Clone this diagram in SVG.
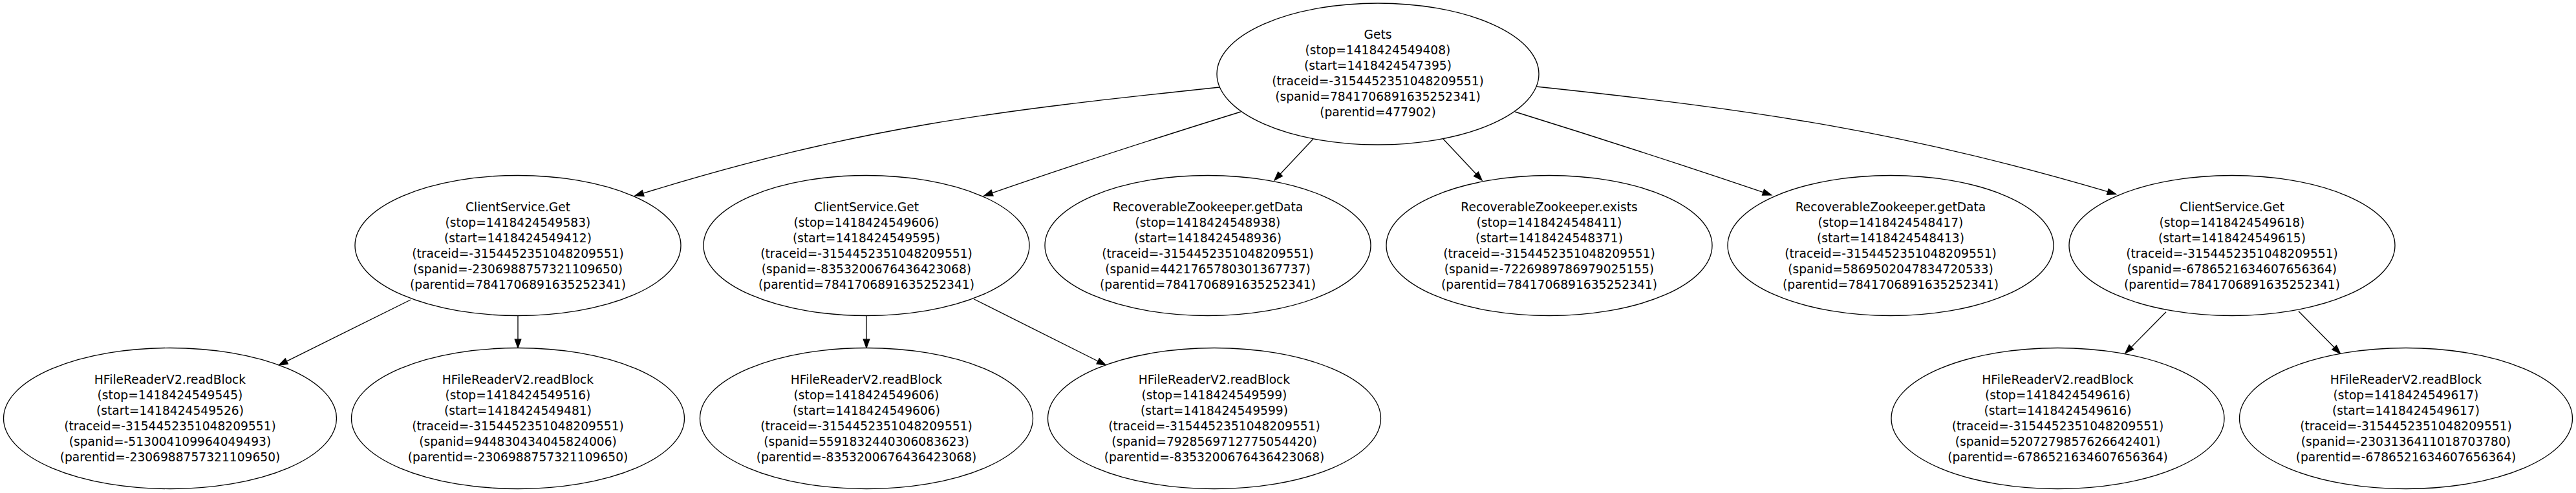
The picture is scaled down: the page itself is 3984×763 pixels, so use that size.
<svg xmlns="http://www.w3.org/2000/svg" width="3984" height="763" viewBox="0 0 3984 763">
<style>
.n ellipse{fill:#fff;stroke:#000;stroke-width:1.33}
.n text{font-family:"DejaVu Sans",Verdana,sans-serif;font-size:18.67px;text-anchor:middle;fill:#000}
#edges path{fill:none;stroke:#000;stroke-width:1.33;marker-end:url(#ah)}
</style>
<defs>
<marker id="ah" markerUnits="userSpaceOnUse" markerWidth="16" markerHeight="12" refX="0" refY="4.67" orient="auto" overflow="visible">
<path d="M0,0 L13.3,4.67 L0,9.33 Z" fill="#000" stroke="#000" stroke-width="1.33"/>
</marker>
</defs>
<rect width="3984" height="763" fill="#fff"/>
<g id="edges">
<path d="M1886,135 C1538,172 1329,196 994.7,299.1"/>
<path d="M1919,173 C1800,210 1640,262 1534.5,298.6"/>
<path d="M2031,215 L1980.1,269.3"/>
<path d="M2232,215 L2282.9,269.3"/>
<path d="M2343,173 C2462,210 2622,262 2727,297.6"/>
<path d="M2376,134 C2726,171 2950,205 3259.8,296.7"/>
<path d="M635,464 L443.3,559.1"/>
<path d="M801,489 L801,525.2"/>
<path d="M1340,489 L1340,525.2"/>
<path d="M1506.5,463 L1698.1,559"/>
<path d="M3350,482.7 L3296.3,537.2"/>
<path d="M3555,481.7 L3610.2,537.8"/>
</g>
<g id="root" class="n"><ellipse cx="2131" cy="114.5" rx="249" ry="109.5"/>
<text y="60"><tspan x="2131">Gets</tspan><tspan x="2131" dy="24">(stop=1418424549408)</tspan><tspan x="2131" dy="24">(start=1418424547395)</tspan><tspan x="2131" dy="24">(traceid=-3154452351048209551)</tspan><tspan x="2131" dy="24">(spanid=7841706891635252341)</tspan><tspan x="2131" dy="24">(parentid=477902)</tspan></text></g>
<g id="cs1" class="n"><ellipse cx="801" cy="380" rx="252" ry="108.5"/>
<text y="326.5"><tspan x="801">ClientService.Get</tspan><tspan x="801" dy="24">(stop=1418424549583)</tspan><tspan x="801" dy="24">(start=1418424549412)</tspan><tspan x="801" dy="24">(traceid=-3154452351048209551)</tspan><tspan x="801" dy="24">(spanid=-2306988757321109650)</tspan><tspan x="801" dy="24">(parentid=7841706891635252341)</tspan></text></g>
<g id="cs2" class="n"><ellipse cx="1340" cy="380" rx="252" ry="108.5"/>
<text y="326.5"><tspan x="1340">ClientService.Get</tspan><tspan x="1340" dy="24">(stop=1418424549606)</tspan><tspan x="1340" dy="24">(start=1418424549595)</tspan><tspan x="1340" dy="24">(traceid=-3154452351048209551)</tspan><tspan x="1340" dy="24">(spanid=-8353200676436423068)</tspan><tspan x="1340" dy="24">(parentid=7841706891635252341)</tspan></text></g>
<g id="rzgd1" class="n"><ellipse cx="1868" cy="380" rx="252" ry="108.5"/>
<text y="326.5"><tspan x="1868">RecoverableZookeeper.getData</tspan><tspan x="1868" dy="24">(stop=1418424548938)</tspan><tspan x="1868" dy="24">(start=1418424548936)</tspan><tspan x="1868" dy="24">(traceid=-3154452351048209551)</tspan><tspan x="1868" dy="24">(spanid=4421765780301367737)</tspan><tspan x="1868" dy="24">(parentid=7841706891635252341)</tspan></text></g>
<g id="rzex" class="n"><ellipse cx="2396" cy="380" rx="252" ry="108.5"/>
<text y="326.5"><tspan x="2396">RecoverableZookeeper.exists</tspan><tspan x="2396" dy="24">(stop=1418424548411)</tspan><tspan x="2396" dy="24">(start=1418424548371)</tspan><tspan x="2396" dy="24">(traceid=-3154452351048209551)</tspan><tspan x="2396" dy="24">(spanid=-7226989786979025155)</tspan><tspan x="2396" dy="24">(parentid=7841706891635252341)</tspan></text></g>
<g id="rzgd2" class="n"><ellipse cx="2924" cy="380" rx="252" ry="108.5"/>
<text y="326.5"><tspan x="2924">RecoverableZookeeper.getData</tspan><tspan x="2924" dy="24">(stop=1418424548417)</tspan><tspan x="2924" dy="24">(start=1418424548413)</tspan><tspan x="2924" dy="24">(traceid=-3154452351048209551)</tspan><tspan x="2924" dy="24">(spanid=5869502047834720533)</tspan><tspan x="2924" dy="24">(parentid=7841706891635252341)</tspan></text></g>
<g id="cs3" class="n"><ellipse cx="3452" cy="380" rx="252" ry="108.5"/>
<text y="326.5"><tspan x="3452">ClientService.Get</tspan><tspan x="3452" dy="24">(stop=1418424549618)</tspan><tspan x="3452" dy="24">(start=1418424549615)</tspan><tspan x="3452" dy="24">(traceid=-3154452351048209551)</tspan><tspan x="3452" dy="24">(spanid=-6786521634607656364)</tspan><tspan x="3452" dy="24">(parentid=7841706891635252341)</tspan></text></g>
<g id="hf1" class="n"><ellipse cx="263" cy="647.5" rx="257.5" ry="109"/>
<text y="593.5"><tspan x="263">HFileReaderV2.readBlock</tspan><tspan x="263" dy="24">(stop=1418424549545)</tspan><tspan x="263" dy="24">(start=1418424549526)</tspan><tspan x="263" dy="24">(traceid=-3154452351048209551)</tspan><tspan x="263" dy="24">(spanid=-513004109964049493)</tspan><tspan x="263" dy="24">(parentid=-2306988757321109650)</tspan></text></g>
<g id="hf2" class="n"><ellipse cx="801" cy="647.5" rx="257.5" ry="109"/>
<text y="593.5"><tspan x="801">HFileReaderV2.readBlock</tspan><tspan x="801" dy="24">(stop=1418424549516)</tspan><tspan x="801" dy="24">(start=1418424549481)</tspan><tspan x="801" dy="24">(traceid=-3154452351048209551)</tspan><tspan x="801" dy="24">(spanid=944830434045824006)</tspan><tspan x="801" dy="24">(parentid=-2306988757321109650)</tspan></text></g>
<g id="hf3" class="n"><ellipse cx="1340" cy="647.5" rx="257.5" ry="109"/>
<text y="593.5"><tspan x="1340">HFileReaderV2.readBlock</tspan><tspan x="1340" dy="24">(stop=1418424549606)</tspan><tspan x="1340" dy="24">(start=1418424549606)</tspan><tspan x="1340" dy="24">(traceid=-3154452351048209551)</tspan><tspan x="1340" dy="24">(spanid=5591832440306083623)</tspan><tspan x="1340" dy="24">(parentid=-8353200676436423068)</tspan></text></g>
<g id="hf4" class="n"><ellipse cx="1878" cy="647.5" rx="257.5" ry="109"/>
<text y="593.5"><tspan x="1878">HFileReaderV2.readBlock</tspan><tspan x="1878" dy="24">(stop=1418424549599)</tspan><tspan x="1878" dy="24">(start=1418424549599)</tspan><tspan x="1878" dy="24">(traceid=-3154452351048209551)</tspan><tspan x="1878" dy="24">(spanid=7928569712775054420)</tspan><tspan x="1878" dy="24">(parentid=-8353200676436423068)</tspan></text></g>
<g id="hf5" class="n"><ellipse cx="3182.5" cy="647.5" rx="257.5" ry="109"/>
<text y="593.5"><tspan x="3182.5">HFileReaderV2.readBlock</tspan><tspan x="3182.5" dy="24">(stop=1418424549616)</tspan><tspan x="3182.5" dy="24">(start=1418424549616)</tspan><tspan x="3182.5" dy="24">(traceid=-3154452351048209551)</tspan><tspan x="3182.5" dy="24">(spanid=5207279857626642401)</tspan><tspan x="3182.5" dy="24">(parentid=-6786521634607656364)</tspan></text></g>
<g id="hf6" class="n"><ellipse cx="3721" cy="647.5" rx="257.5" ry="109"/>
<text y="593.5"><tspan x="3721">HFileReaderV2.readBlock</tspan><tspan x="3721" dy="24">(stop=1418424549617)</tspan><tspan x="3721" dy="24">(start=1418424549617)</tspan><tspan x="3721" dy="24">(traceid=-3154452351048209551)</tspan><tspan x="3721" dy="24">(spanid=-2303136411018703780)</tspan><tspan x="3721" dy="24">(parentid=-6786521634607656364)</tspan></text></g>
</svg>
